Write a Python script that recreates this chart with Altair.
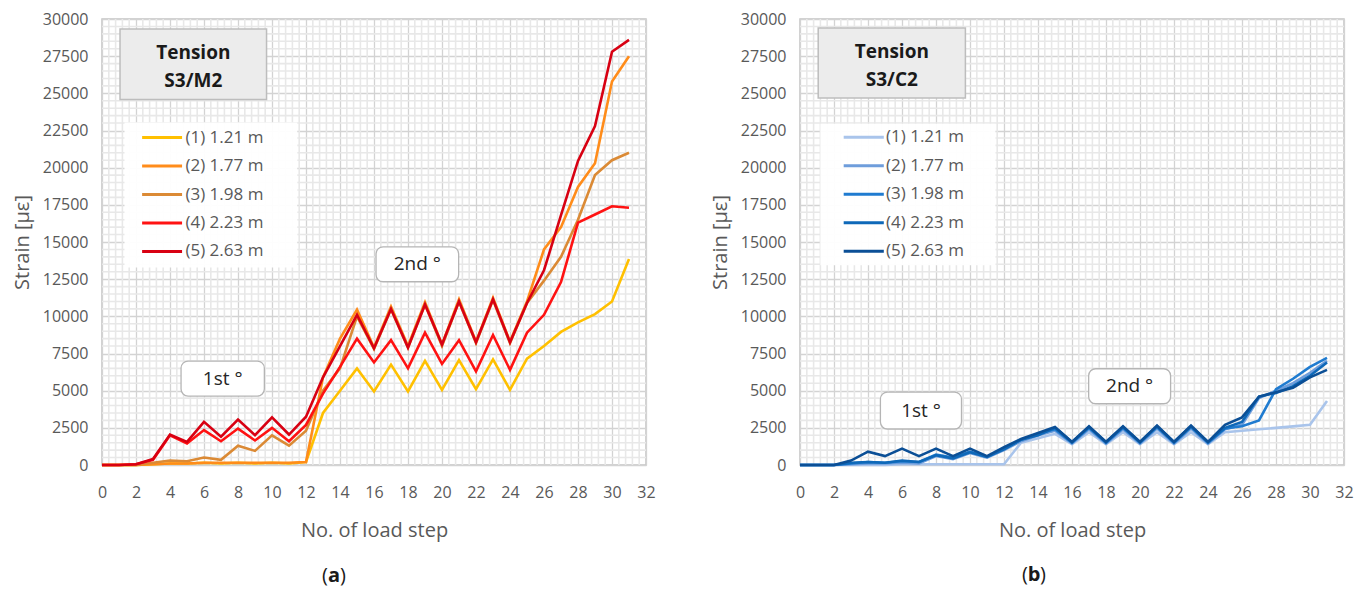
import altair as alt
import pandas as pd
import numpy as np

# ---------------- data ----------------
steps = list(range(32))
labels = ["(1) 1.21 m", "(2) 1.77 m", "(3) 1.98 m", "(4) 2.23 m", "(5) 2.63 m"]

m2_s1 = [0, 0, 0, 50, 100, 100, 150, 100, 150, 100, 150, 100, 200, 3500, 5000, 6500,
         4950, 6750, 4950, 7000, 5050, 7050, 5100, 7100, 5050, 7150, 8000, 8950, 9600, 10150, 11000, 13850]
m2_s2 = [0, 0, 0, 50, 100, 100, 150, 150, 150, 150, 150, 150, 200, 5900, 8500, 10450,
         7900, 10650, 8000, 10950, 8100, 11150, 8300, 11250, 8300, 11000, 14500, 16000, 18700, 20300, 25800, 27500]
m2_s3 = [0, 0, 0, 150, 300, 250, 500, 350, 1300, 950, 2000, 1300, 2300, 5000, 6500, 10000,
         7800, 10500, 7900, 10800, 8000, 11000, 8200, 11100, 8200, 10900, 12400, 14000, 16500, 19500, 20500, 21000]
m2_s4 = [0, 0, 50, 350, 2000, 1450, 2350, 1600, 2450, 1650, 2500, 1600, 2700, 4800, 6600, 8500,
         6900, 8400, 6500, 8900, 6800, 8400, 6300, 8750, 6400, 8900, 10100, 12300, 16300, 16850, 17400, 17300]
m2_s5 = [0, 0, 50, 400, 2050, 1550, 2900, 1900, 3050, 2000, 3200, 2050, 3250, 5900, 8000, 10100,
         7850, 10500, 7900, 10800, 8100, 11000, 8250, 11150, 8250, 10900, 13100, 16800, 20450, 22800, 27800, 28600]

c2_s1 = [0, 0, 0, 0, 0, 0, 50, 50, 50, 50, 50, 50, 50, 1500, 1800, 2100,
         1400, 2200, 1400, 2200, 1400, 2200, 1400, 2200, 1400, 2200, 2300, 2400, 2500, 2600, 2700, 4300]
c2_s2 = [0, 0, 0, 50, 100, 100, 150, 100, 600, 400, 800, 500, 1000, 1600, 2000, 2300,
         1450, 2400, 1450, 2400, 1450, 2450, 1450, 2450, 1450, 2400, 2700, 4500, 5000, 5500, 6200, 7000]
c2_s3 = [0, 0, 0, 100, 200, 150, 250, 200, 700, 500, 900, 550, 1100, 1700, 2100, 2400,
         1500, 2500, 1500, 2500, 1500, 2550, 1500, 2550, 1500, 2450, 2600, 3000, 5100, 5800, 6600, 7200]
c2_s4 = [0, 0, 0, 150, 200, 150, 300, 200, 650, 450, 850, 550, 1050, 1700, 2000, 2500,
         1550, 2550, 1550, 2550, 1550, 2600, 1550, 2600, 1550, 2500, 2900, 4600, 4850, 5300, 6000, 6900]
c2_s5 = [0, 0, 0, 300, 900, 600, 1100, 600, 1100, 600, 1100, 600, 1200, 1750, 2150, 2550,
         1550, 2600, 1550, 2600, 1550, 2650, 1550, 2650, 1550, 2700, 3200, 4600, 4900, 5200, 5900, 6400]

x_ticks = list(range(0, 33, 2))
y_ticks = list(range(0, 30001, 2500))

m2_colors = ["#FFC000", "#FF8C1A", "#DB8A35", "#FF1212", "#D80012"]
c2_colors = ["#A9C4EB", "#6E9DDB", "#1F7BD0", "#0E68B8", "#0B4F96"]

FONT = "Open Sans"
W, H = 544, 446

X_AXIS = alt.Axis(values=x_ticks, tickCount=60, title="No. of load step", format="d", labelOverlap=False)
Y_AXIS = alt.Axis(values=y_ticks, tickCount=60, title="Strain [\u03bc\u03b5]", format="d", labelOverlap=False)


def panel(series, colors, title2, letter, lay):
    df = pd.concat([pd.DataFrame({"step": steps, "strain": s, "series": n})
                    for n, s in zip(labels, series)], ignore_index=True)
    xs = alt.Scale(domain=[0, 32], nice=False, zero=False)
    ys = alt.Scale(domain=[0, 30000], nice=False)
    cs = alt.Scale(domain=labels, range=colors)

    def X(f):
        return alt.X(f, scale=xs, axis=X_AXIS)

    def Y(f):
        return alt.Y(f, scale=ys, axis=Y_AXIS)

    minor_x = pd.DataFrame({"v": [v for v in np.arange(0, 32.01, 0.4) if abs(v / 2 - round(v / 2)) > 1e-6]})
    minor_y = pd.DataFrame({"v": [v for v in range(0, 30001, 500) if v % 2500]})
    gx = alt.Chart(minor_x).mark_rule(color="#e8e8e8", strokeWidth=1.6).encode(x=X("v:Q"))
    gy = alt.Chart(minor_y).mark_rule(color="#e8e8e8", strokeWidth=1.6).encode(y=Y("v:Q"))

    lines = alt.Chart(df).mark_line(strokeWidth=2.6).encode(
        x=X("step:Q"),
        y=Y("strain:Q"),
        color=alt.Color("series:N", scale=cs, legend=None),
        order=alt.Order("step:Q"),
        detail="series:N",
    )

    # title box
    tb = lay["title_box"]
    tbox = alt.Chart(pd.DataFrame([tb])).mark_rect(fill="#ececec", stroke="#bdbdbd", strokeWidth=1.5).encode(
        x=X("x1:Q"), x2="x2:Q", y=Y("y1:Q"), y2="y2:Q")
    ttext = alt.Chart(pd.DataFrame({"t": ["Tension", title2], "x": [tb["cx"]] * 2,
                                    "y": [tb["ty1"], tb["ty2"]]})).mark_text(
        font=FONT, fontSize=19, fontWeight="bold", color="#1a1a1a", baseline="middle").encode(
        x=X("x:Q"), y=Y("y:Q"), text="t:N")

    # legend
    lb = lay["legend_box"]
    lbox = alt.Chart(pd.DataFrame([lb])).mark_rect(fill="white", opacity=0.95).encode(
        x=X("x1:Q"), x2="x2:Q", y=Y("y1:Q"), y2="y2:Q")
    ldf = pd.DataFrame({"series": labels,
                        "y": [lay["leg_y0"] - i * lay["leg_dy"] for i in range(5)],
                        "x1": lay["leg_x1"], "x2": lay["leg_x2"], "tx": lay["leg_tx"]})
    lrules = alt.Chart(ldf).mark_rule(strokeWidth=3).encode(
        x=X("x1:Q"), x2="x2:Q", y=Y("y:Q"),
        color=alt.Color("series:N", scale=cs, legend=None))
    ltext = alt.Chart(ldf).mark_text(font=FONT, fontSize=17, color="#595959", align="left",
                                     baseline="middle", dx=1).encode(
        x=X("tx:Q"), y=Y("y:Q"), text="series:N")

    # phase labels
    pdf = pd.DataFrame(lay["phases"])
    pbox = alt.Chart(pdf).mark_rect(fill="white", stroke="#b5b5b5", strokeWidth=1.3, cornerRadius=7).encode(
        x=X("x1:Q"), x2="x2:Q", y=Y("y1:Q"), y2="y2:Q")
    ptext = alt.Chart(pdf).mark_text(font=FONT, fontSize=19, color="#262626", baseline="middle").encode(
        x=X("cx:Q"), y=Y("cy:Q"), text="t:N")

    # caption
    cx = lay["cap_x"]
    cy = lay["cap_y"]
    cap1 = alt.Chart(pd.DataFrame({"t": ["("]})).mark_text(
        font=FONT, fontSize=20, color="#1a1a1a", align="right", baseline="middle").encode(
        x=alt.value(cx - 6), y=alt.value(cy), text="t:N")
    cap2 = alt.Chart(pd.DataFrame({"t": [letter]})).mark_text(
        font=FONT, fontSize=20, fontWeight="bold", color="#1a1a1a", align="center", baseline="middle").encode(
        x=alt.value(cx), y=alt.value(cy), text="t:N")
    cap3 = alt.Chart(pd.DataFrame({"t": [")"]})).mark_text(
        font=FONT, fontSize=20, color="#1a1a1a", align="left", baseline="middle").encode(
        x=alt.value(cx + 6), y=alt.value(cy), text="t:N")

    return alt.layer(gx, gy, lines, tbox, ttext, lbox, lrules, ltext, pbox, ptext, cap1, cap2, cap3).properties(
        width=W, height=H)


lay_a = {
    "title_box": {"x1": 1.06, "x2": 9.68, "y1": 24577, "y2": 29328, "cx": 5.37, "ty1": 27700, "ty2": 25850},
    "legend_box": {"x1": 1.32, "x2": 11.49, "y1": 13280, "y2": 23030},
    "leg_y0": 22022, "leg_dy": 1915, "leg_x1": 2.36, "leg_x2": 4.71, "leg_tx": 4.85,
    "phases": [{"t": "1st \u00b0", "x1": 4.65, "x2": 9.55, "y1": 4637, "y2": 6990, "cx": 7.1, "cy": 5813},
               {"t": "2nd \u00b0", "x1": 16.12, "x2": 20.98, "y1": 12325, "y2": 14677, "cx": 18.55, "cy": 13501}],
    "cap_x": 232, "cap_y": 557,
}
lay_b = {
    "title_box": {"x1": 1.07, "x2": 9.73, "y1": 24690, "y2": 29395, "cx": 5.4, "ty1": 27800, "ty2": 25900},
    "legend_box": {"x1": 1.2, "x2": 11.5, "y1": 13430, "y2": 22950},
    "leg_y0": 22045, "leg_dy": 1915, "leg_x1": 2.57, "leg_x2": 4.93, "leg_tx": 5.0,
    "phases": [{"t": "1st \u00b0", "x1": 4.73, "x2": 9.5, "y1": 2420, "y2": 4907, "cx": 7.12, "cy": 3663},
               {"t": "2nd \u00b0", "x1": 16.98, "x2": 21.8, "y1": 4120, "y2": 6473, "cx": 19.39, "cy": 5297}],
    "cap_x": 234, "cap_y": 556,
}

left = panel([m2_s1, m2_s2, m2_s3, m2_s4, m2_s5], m2_colors, "S3/M2", "a", lay_a)
right = panel([c2_s1, c2_s2, c2_s3, c2_s4, c2_s5], c2_colors, "S3/C2", "b", lay_b)

chart = alt.hconcat(left, right, spacing=53).resolve_scale(color="independent").properties(
    padding={"left": 3, "top": 2, "right": 0, "bottom": 0}
).configure_view(stroke="#c4c4c4", strokeWidth=1.5).configure_axis(
    domain=False, ticks=False, grid=True, gridColor="#d3d3d3", gridWidth=1.3,
    labelFont=FONT, labelFontSize=16, labelColor="#595959",
    titleFont=FONT, titleFontSize=20, titleColor="#595959", titleFontWeight="normal",
).configure_axisX(labelPadding=19, titlePadding=20, labelFlush=False).configure_axisY(
    labelPadding=14, titlePadding=8, minExtent=62, maxExtent=62)

chart.save("out.html", embed_options={"renderer": "svg", "actions": False})
